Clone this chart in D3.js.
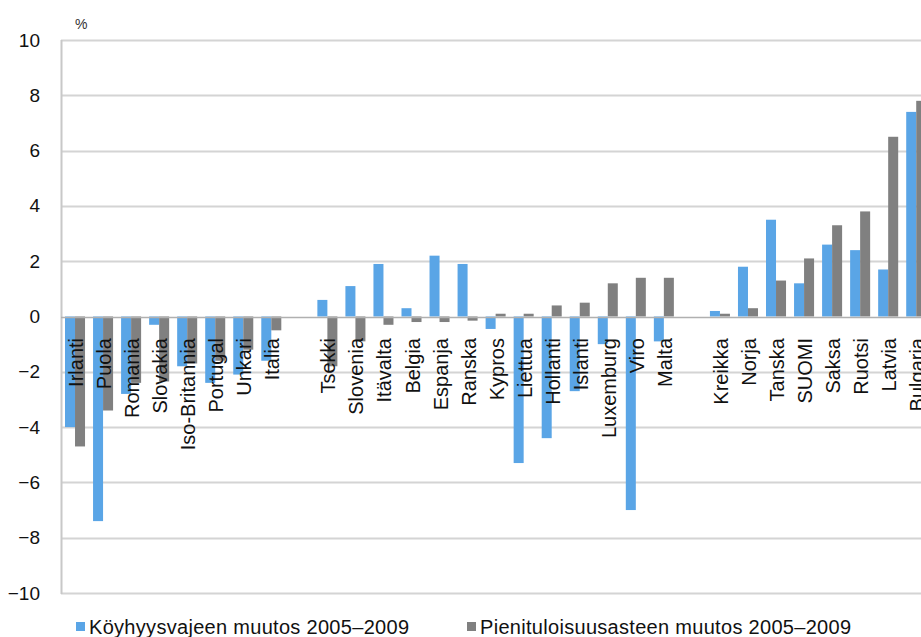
<!DOCTYPE html>
<html>
<head>
<meta charset="utf-8">
<script src="https://cdn.jsdelivr.net/npm/d3@7"></script>
<style>
  body { margin: 0; background: #fff; }
  svg { display: block; font-family: "Liberation Sans", Arial, sans-serif; }
</style>
</head>
<body>
<div id="chart"></div>
<script>
'use strict';

// categories ("" entries are empty gap slots)
const countries = ["Irlanti", "Puola", "Romania", "Slovakia", "Iso-Britannia", "Portugal", "Unkari", "Italia", "",
  "Tsekki", "Slovenia", "Itävalta", "Belgia", "Espanja", "Ranska", "Kypros", "Liettua", "Hollanti", "Islanti",
  "Luxemburg", "Viro", "Malta", "",
  "Kreikka", "Norja", "Tanska", "SUOMI", "Saksa", "Ruotsi", "Latvia", "Bulgaria"];

// Köyhyysvajeen muutos 2005–2009
const povertyGap = [-4.0, -7.4, -2.8, -0.3, -1.8, -2.4, -2.1, -1.6, null,
  0.6, 1.1, 1.9, 0.3, 2.2, 1.9, -0.45, -5.3, -4.4, -2.7,
  -1.0, -7.0, -0.9, null,
  0.2, 1.8, 3.5, 1.2, 2.6, 2.4, 1.7, 7.4];

// Pienituloisuusasteen muutos 2005–2009
const lowIncomeRate = [-4.7, -3.4, -2.4, -2.35, -1.7, -1.6, -1.2, -0.5, null,
  -1.8, -0.9, -0.3, -0.2, -0.2, -0.15, 0.1, 0.1, 0.4, 0.5,
  1.2, 1.4, 1.4, null,
  0.1, 0.3, 1.3, 2.1, 3.3, 3.8, 6.5, 7.8];

const seriesNames = ["Köyhyysvajeen muutos 2005–2009", "Pienituloisuusasteen muutos 2005–2009"];
const seriesColors = ["#5aa5e6", "#808080"];
const yTicks = [10, 8, 6, 4, 2, 0, -2, -4, -6, -8, -10];

{ // chart scope

const width = 921, height = 637;
const plotLeft = 61, plotTop = 40, plotBottom = 593;
const step = 28.04;
const plotRight = plotLeft + step * countries.length;

const svg = d3.select("#chart").append("svg")
  .attr("width", width)
  .attr("height", height);

// unique keys so the gap slots get their own band
const keys = countries.map((c, i) => i + "|" + c);

const x = d3.scaleBand()
  .domain(keys)
  .range([plotLeft, plotRight])
  .paddingInner(0.286)
  .paddingOuter(0.143);

const xSub = d3.scaleBand()
  .domain([0, 1])
  .range([0, x.bandwidth()]);

const y = d3.scaleLinear()
  .domain([-10, 10])
  .range([plotBottom, plotTop]);

// gridlines
svg.append("g")
  .selectAll("line")
  .data(yTicks.filter(t => t !== 0))
  .join("line")
  .attr("x1", plotLeft)
  .attr("x2", plotRight)
  .attr("y1", d => Math.round(y(d)) + 0.5)
  .attr("y2", d => Math.round(y(d)) + 0.5)
  .attr("stroke", "#d4d4d4")
  .attr("stroke-width", 2);

// left axis line
svg.append("line")
  .attr("x1", plotLeft + 0.5).attr("x2", plotLeft + 0.5)
  .attr("y1", plotTop).attr("y2", plotBottom + 1)
  .attr("stroke", "#c8c8c8")
  .attr("stroke-width", 2);

// tick labels
const yAxis = d3.axisLeft(y).tickValues(yTicks).tickSize(0).tickPadding(21);
const gy = svg.append("g")
  .attr("transform", `translate(${plotLeft},0)`)
  .call(yAxis);
gy.select(".domain").remove();
gy.selectAll("text")
  .attr("font-size", 19)
  .attr("font-family", "Liberation Sans, Arial, sans-serif")
  .attr("fill", "#111");

// unit label
svg.append("text")
  .attr("x", 75).attr("y", 29)
  .attr("font-size", 14)
  .attr("fill", "#333")
  .text("%");

// bars
const rows = countries.map((c, i) => ({ key: keys[i], vals: [povertyGap[i], lowIncomeRate[i]] }));

const groups = svg.append("g")
  .selectAll("g")
  .data(rows)
  .join("g")
  .attr("transform", d => `translate(${x(d.key)},0)`);

groups.selectAll("rect")
  .data(d => d.vals.map((v, s) => ({ v, s })).filter(e => e.v !== null))
  .join("rect")
  .attr("x", d => xSub(d.s))
  .attr("width", xSub.bandwidth())
  .attr("y", d => y(Math.max(0, d.v)))
  .attr("height", d => Math.abs(y(d.v) - y(0)))
  .attr("fill", d => seriesColors[d.s]);

// zero line
svg.append("line")
  .attr("x1", plotLeft).attr("x2", plotRight)
  .attr("y1", Math.round(y(0)) + 0.5).attr("y2", Math.round(y(0)) + 0.5)
  .attr("stroke", "#b0b0b0")
  .attr("stroke-width", 1.5);

// category labels
svg.append("g")
  .selectAll("text")
  .data(rows.filter((d, i) => countries[i] !== ""))
  .join("text")
  .attr("transform", d => `translate(${x(d.key) + x.bandwidth() / 2 + 1},338) rotate(-90)`)
  .attr("text-anchor", "end")
  .attr("dy", "0.35em")
  .attr("font-size", 20)
  .attr("fill", "#111")
  .text(d => d.key.split("|")[1]);

// legend
const legendX = [76, 467];
const legend = svg.append("g")
  .selectAll("g")
  .data(seriesNames)
  .join("g")
  .attr("transform", (d, i) => `translate(${legendX[i]},622)`);

legend.append("rect")
  .attr("width", 9).attr("height", 9)
  .attr("fill", (d, i) => seriesColors[i]);

legend.append("text")
  .attr("x", 13).attr("y", 12)
  .attr("font-size", 20)
  .attr("letter-spacing", 0.3)
  .attr("fill", "#111")
  .text(d => d);

} // end scope
</script>
</body>
</html>
